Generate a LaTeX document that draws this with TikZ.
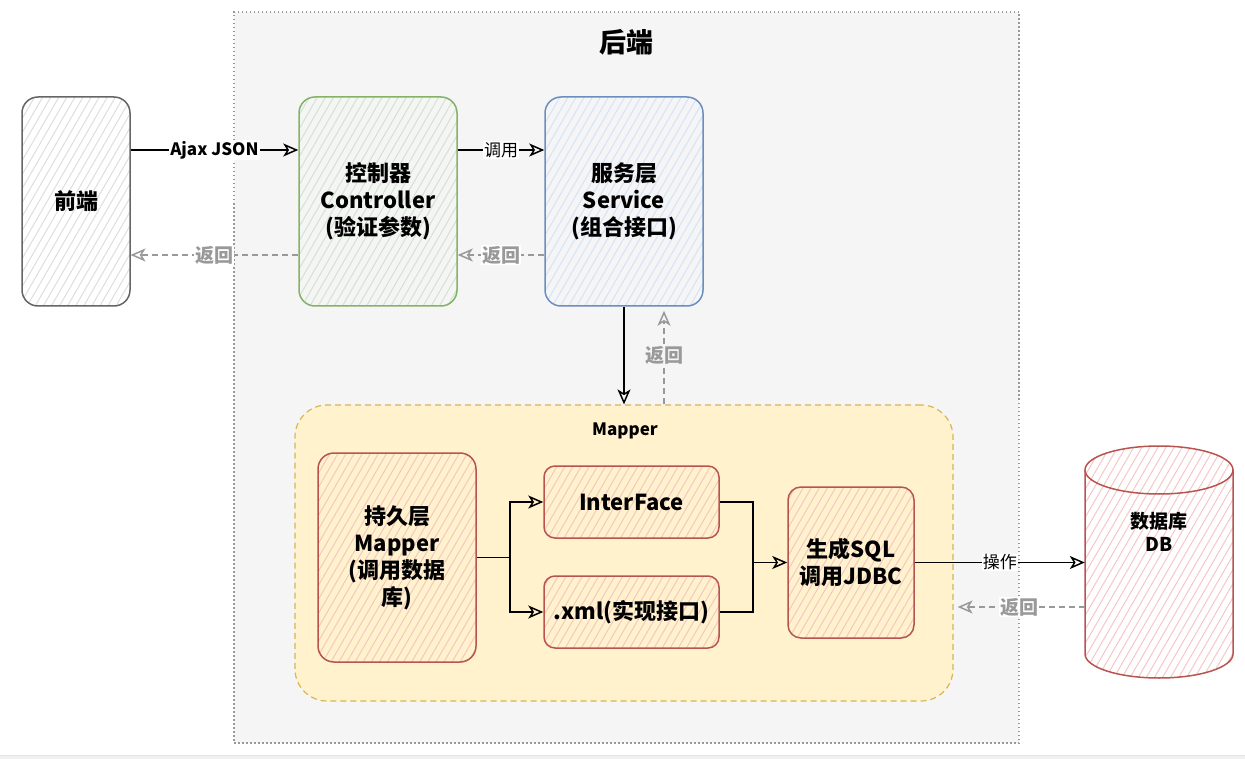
\documentclass[tikz,border=0pt]{standalone}
\usepackage{fontspec}
\setmainfont{Noto Sans CJK SC}
\usetikzlibrary{arrows.meta,patterns.meta,calc}
\definecolor{bebg}{HTML}{F5F5F5}
\definecolor{beline}{HTML}{999999}
\definecolor{grayline}{HTML}{666666}
\definecolor{grayhatch}{HTML}{DDDDDD}
\definecolor{greenline}{HTML}{82B366}
\definecolor{greenhatch}{HTML}{CFE5CC}
\definecolor{blueline}{HTML}{6C8EBF}
\definecolor{bluehatch}{HTML}{D3E3FA}
\definecolor{redline}{HTML}{B85450}
\definecolor{redhatch}{HTML}{F6C6C4}
\definecolor{yelfill}{HTML}{FFF2CC}
\definecolor{yelline}{HTML}{D6B656}
\definecolor{retgray}{HTML}{999999}
\begin{document}
\begin{tikzpicture}[x=1pt,y=-1pt,
  box/.style={rounded corners=16pt, line width=1.5pt, align=center,
    font=\fontsize{22}{27}\selectfont\bfseries, inner sep=0pt},
  hatch/.style={pattern={Lines[angle=60,distance=7pt,line width=1pt]}, pattern color=#1},
  graybox/.style={box, draw=grayline, hatch=grayhatch},
  greenbox/.style={box, draw=greenline, hatch=greenhatch},
  bluebox/.style={box, draw=blueline, hatch=bluehatch},
  redbox/.style={box, draw=redline, hatch=redhatch},
  conn/.style={line width=1.5pt, black},
  tip/.style={-{Stealth[open,length=15pt,width=13pt,inset=4pt,line width=1.5pt]}},
  arr/.style={conn, tip},
  ret/.style={line width=1.5pt, retgray, dash pattern=on 6pt off 4pt, tip},
  lbl/.style={fill=white, inner sep=1pt, font=\fontsize{17}{20}\selectfont\bfseries},
  rlbl/.style={fill=white, inner sep=1pt, text=retgray, font=\fontsize{19}{22}\selectfont\bfseries},
  plbl/.style={fill=white, inner sep=1pt, font=\fontsize{17}{20}\selectfont},
]
\useasboundingbox (0,0) rectangle (1245,759);
\fill[color={rgb,255:red,240;green,240;blue,240}] (0,755) rectangle (1245,759);
\draw[color={rgb,255:red,228;green,228;blue,228}, line width=0.6pt] (0,755) -- (1245,755);

% backend container
\node[draw=beline, fill=bebg, line width=1.2pt, dash pattern=on 1.5pt off 2.5pt,
  minimum width=785pt, minimum height=731pt, inner sep=0pt] (be) at (626.5,377.5) {};
\node[font=\fontsize{27}{30}\selectfont\bfseries] (betitle) at (626,42) {后端};

% mapper container
\node[draw=yelline, fill=yelfill, line width=1.2pt, dash pattern=on 6pt off 4pt,
  rounded corners=32pt, minimum width=658pt, minimum height=296pt, inner sep=0pt]
  (mapper) at (624,553) {};
\node[font=\fontsize{17}{20}\selectfont\bfseries] (mlabel) at (625,431) {Mapper};

% boxes
\node[graybox, minimum width=108pt, minimum height=209pt] (fe) at (76,201.5) {前端};
\node[greenbox, minimum width=158pt, minimum height=209pt] (ctrl) at (378,201.5)
  {控制器\\Controller\\(验证参数)};
\node[bluebox, minimum width=158pt, minimum height=209pt] (svc) at (624,201.5)
  {服务层\\Service\\(组合接口)};
\node[redbox, minimum width=158pt, minimum height=209pt] (pl) at (397,557.5)
  {持久层\\Mapper\\(调用数据\\库)};
\node[redbox, rounded corners=11pt, minimum width=175pt, minimum height=72pt] (itf) at (631.5,502)
  {InterFace};
\node[redbox, rounded corners=11pt, minimum width=175pt, minimum height=72pt] (xml) at (631.5,612)
  {.xml(实现接口)};
\node[redbox, rounded corners=13pt, minimum width=126pt, minimum height=151pt] (sql) at (851,562.5)
  {生成SQL\\调用JDBC};

% database cylinder
\node[minimum width=148pt, minimum height=232pt, inner sep=0pt] (db) at (1159,562) {};
\path[hatch=redhatch] (1085,470) -- (1085,654)
  arc[start angle=180,end angle=360,x radius=74pt,y radius=24pt] -- (1233,470)
  arc[start angle=0,end angle=180,x radius=74pt,y radius=24pt] -- cycle;
\draw[redline, line width=1.5pt] (1085,470) -- (1085,654)
  arc[start angle=180,end angle=360,x radius=74pt,y radius=24pt] -- (1233,470)
  arc[start angle=0,end angle=180,x radius=74pt,y radius=24pt] -- cycle;
\draw[redline, line width=1.5pt] (1085,470)
  arc[start angle=180,end angle=360,x radius=74pt,y radius=24pt];
\node[align=center, font=\fontsize{19}{23}\selectfont\bfseries] (dbtext) at (1159,532) {数据库\\DB};

% connectors
\draw[arr] (fe.east |- 0,150) -- node[lbl] {Ajax JSON} (ctrl.west |- 0,150);
\draw[ret] (ctrl.west |- 0,255) -- node[rlbl] {返回} (fe.east |- 0,255);
\draw[arr] (ctrl.east |- 0,150) -- node[plbl] {调用} (svc.west |- 0,150);
\draw[ret] (svc.west |- 0,255) -- node[rlbl] {返回} (ctrl.east |- 0,255);
\draw[arr] (svc.south) -- (mapper.north);
\draw[ret, shorten >=4pt] (mapper.north -| 664,0) -- node[rlbl, fill=bebg] {返回} (svc.south -| 664,0);

\coordinate (j1) at (510,557.5);
\coordinate (j2) at (753,562.5);
\draw[conn] (pl.east |- j1) -- (j1);
\draw[arr] (j1) |- (itf.west);
\draw[arr] (j1) |- (xml.west);
\draw[conn] (itf.east) -| (j2);
\draw[conn] (xml.east) -| (j2);
\draw[arr] (j2) -- (sql.west);

\draw[arr] (sql.east) -- node[plbl] {操作} (db.west |- sql.east);
\draw[ret, shorten >=4pt] (db.west |- 0,607) -- node[rlbl] {返回} (mapper.east |- 0,607);
\end{tikzpicture}
\end{document}
